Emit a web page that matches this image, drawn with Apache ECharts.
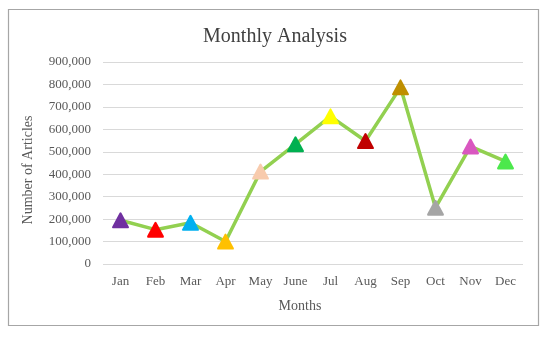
<!DOCTYPE html>
<html><head><meta charset="utf-8">
<script src="https://cdn.jsdelivr.net/npm/echarts@6/dist/echarts.min.js"></script>
<style>html,body{margin:0;padding:0;background:#fff}#c{width:550px;height:339px}</style>
</head><body><div id="c"></div>
<script>
var months = ['Jan','Feb','Mar','Apr','May','June','Jul','Aug','Sep','Oct','Nov','Dec'];
var articles = [195000,153000,184000,100000,412000,534000,658000,548000,787000,251000,524000,457000];
var markerColors = ['#7030A0','#FF0000','#00B0F0','#FFC000','#F8CBAD','#00B050','#FFFF00','#C00000','#BF8F00','#A5A5A5','#D957C0','#4CE84C'];
var yTicks = [0,100000,200000,300000,400000,500000,600000,700000,800000,900000];

var font = '"Liberation Serif", "Times New Roman", serif';
var roundTri = 'path://M9 1.2Q10 0 11 1.2L19.6 15.4Q20.4 17 18.6 17L1.4 17Q-0.4 17 0.4 15.4Z';
var chart = echarts.init(document.getElementById('c'));
chart.setOption({
  animation: false,
  title: {text: 'Monthly Analysis', left: 'center', top: 22,
    textStyle: {fontFamily: font, fontSize: 20, fontWeight: 'normal', color: '#404040'}},
  grid: {left: 103, right: 27, top: 62, bottom: 75},
  xAxis: {type: 'category', data: months, boundaryGap: true,
    axisLine: {show: false}, axisTick: {show: false},
    axisLabel: {fontFamily: font, fontSize: 13, color: '#595959', margin: 11}},
  yAxis: {type: 'value', min: yTicks[0], max: yTicks[yTicks.length-1], interval: 100000,
    axisLine: {show: false}, axisTick: {show: false},
    splitLine: {lineStyle: {color: '#D9D9D9', width: 1}},
    axisLabel: {fontFamily: font, fontSize: 13, color: '#595959', margin: 12,
      formatter: function(v){ return v.toLocaleString('en-US'); }}},
  graphic: [
    {type: 'rect', shape: {x: 8.5, y: 9.5, width: 530, height: 316},
      style: {fill: 'none', stroke: '#A6A6A6', lineWidth: 1.2}, z: -1},
    {type: 'text', x: 300, y: 306, style: {text: 'Months', font: '14px ' + font, fill: '#595959', align: 'center', verticalAlign: 'middle'}},
    {type: 'text', x: 28, y: 170, rotation: Math.PI/2, style: {text: 'Number of Articles', font: '14px ' + font, fill: '#595959', align: 'center', verticalAlign: 'middle'}}
  ],
  series: [{
    type: 'line', data: articles.map(function(v,i){return {value: v, itemStyle: {color: markerColors[i]}};}),
    lineStyle: {color: '#92D050', width: 3.5},
    symbol: roundTri, symbolSize: [17, 16], symbolKeepAspect: false,
    itemStyle: {borderWidth: 0}
  }]
});
</script></body></html>
